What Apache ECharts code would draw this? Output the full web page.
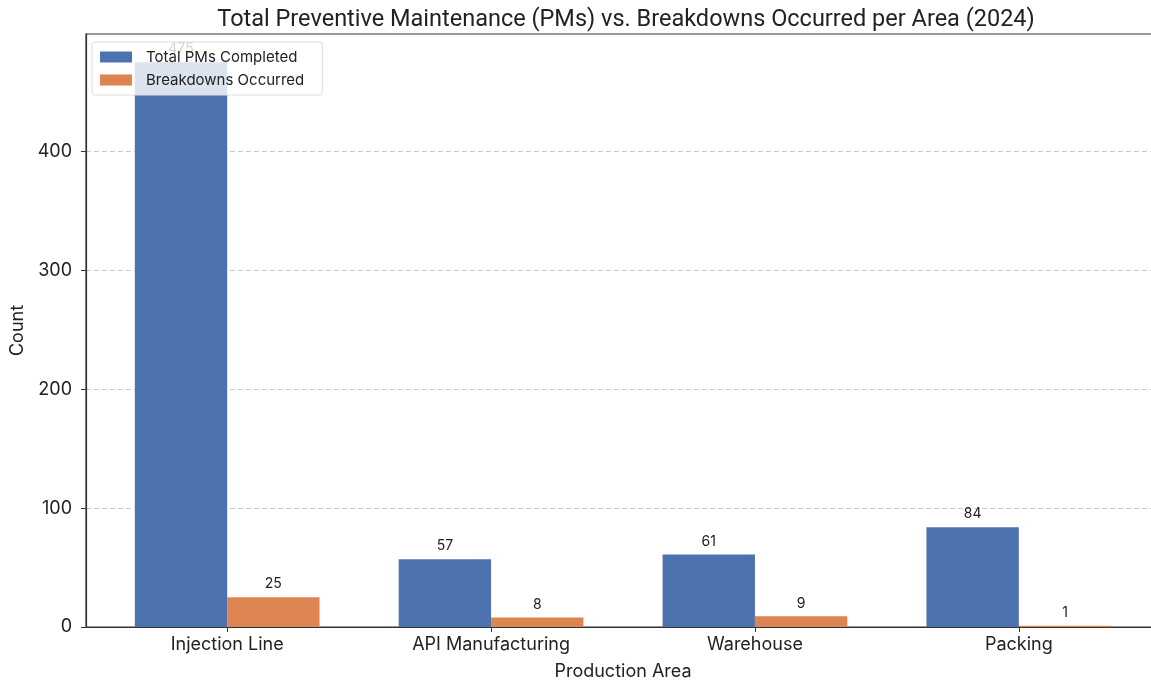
<!DOCTYPE html>
<html>
<head>
<meta charset="utf-8">
<script src="https://cdn.jsdelivr.net/npm/echarts@6/dist/echarts.min.js"></script>
<style>
html,body{margin:0;padding:0;background:#fff;}
#chart{width:1151px;height:681px;}
</style>
</head>
<body>
<div id="chart"></div>
<script>
const categories = ['Injection Line', 'API Manufacturing', 'Warehouse', 'Packing'];
const pmsCompleted = [475, 57, 61, 84];
const breakdowns = [25, 8, 9, 1];
const seriesNames = ['Total PMs Completed', 'Breakdowns Occurred'];
const yTicks = [0, 100, 200, 300, 400];

const xMin = -0.535, xMax = 3.535;
const gridLeft = 86, gridTop = 34, gridW = 1074, gridH = 593;
const barW = 0.35 * gridW / (xMax - xMin);
const labelFont = 'Inter, "Noto Sans", sans-serif';

const chart = echarts.init(document.getElementById('chart'));
chart.setOption({
  animation: false,
  backgroundColor: '#fff',
  title: {
    text: 'Total Preventive Maintenance (PMs) vs. Breakdowns Occurred per Area (2024)',
    left: 621,
    textAlign: 'center',
    top: 3,
    textStyle: {fontFamily: 'Roboto, sans-serif', fontWeight: 'normal', fontSize: 23.5, color: '#222'}
  },
  legend: {
    left: 92, top: 42, orient: 'vertical',
    itemWidth: 32, itemHeight: 11, itemGap: 5,
    padding: [6, 18, 6, 8],
    backgroundColor: 'rgba(255,255,255,0.8)',
    borderColor: '#ddd', borderWidth: 1, borderRadius: 3,
    textStyle: {fontFamily: labelFont, fontSize: 15, lineHeight: 18, color: '#222', padding: [0, 0, 0, 9]},
    icon: 'rect',
    data: seriesNames
  },
  grid: {left: gridLeft, top: gridTop, width: gridW, height: gridH, outerBoundsMode: 'none', containLabel: false,
    show: true, borderColor: '#333', borderWidth: 1.2, backgroundColor: 'transparent'},
  xAxis: {
    type: 'value', min: xMin, max: xMax,
    name: 'Production Area', nameLocation: 'middle', nameGap: 36,
    nameTextStyle: {fontFamily: labelFont, fontSize: 18, color: '#222'},
    axisLine: {show: true, onZero: false, lineStyle: {color: '#333', width: 1.2}},
    axisTick: {show: true, customValues: [0, 1, 2, 3], length: 5, lineStyle: {color: '#333'}},
    axisLabel: {customValues: [0, 1, 2, 3], formatter: v => categories[Math.round(v)], margin: 9,
      fontFamily: labelFont, fontSize: 18, color: '#222'},
    splitLine: {show: false}
  },
  yAxis: {
    type: 'value', min: 0, max: 498.75,
    name: 'Count', nameLocation: 'middle', nameGap: 56, nameRotate: 90,
    nameTextStyle: {fontFamily: labelFont, fontSize: 18, color: '#222'},
    axisLine: {show: true, onZero: false, lineStyle: {color: '#333', width: 1.2}},
    axisTick: {show: true, customValues: yTicks, length: 5, lineStyle: {color: '#333'}},
    axisLabel: {customValues: yTicks, margin: 14, fontFamily: labelFont, fontSize: 18, color: '#222'},
    splitLine: {show: true, customValues: yTicks, lineStyle: {color: '#ccc', type: [5, 3], width: 1}}
  },
  series: [
    {
      name: seriesNames[0], type: 'bar', barWidth: barW, barGap: '0%',
      itemStyle: {color: '#4C72B0'},
      label: {show: true, position: 'top', distance: 6, fontFamily: labelFont, fontSize: 14, color: '#222'},
      data: pmsCompleted.map((v, i) => [i, v])
    },
    {
      name: seriesNames[1], type: 'bar', barWidth: barW, barGap: '0%',
      itemStyle: {color: '#DD8452'},
      label: {show: true, position: 'top', distance: 6, fontFamily: labelFont, fontSize: 14, color: '#222'},
      data: breakdowns.map((v, i) => [i, v])
    }
  ]
});
</script>
</body>
</html>
